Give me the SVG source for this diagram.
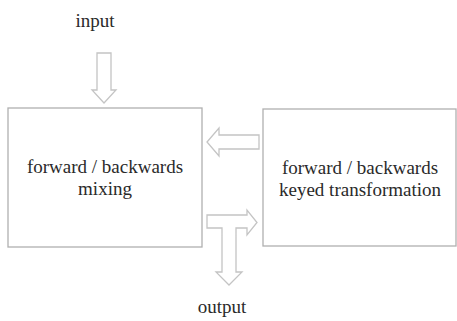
<svg xmlns="http://www.w3.org/2000/svg" width="457" height="321" viewBox="0 0 457 321">
<style>
.box{fill:#fff;stroke:#b0b0b0;stroke-width:1.3}
.arr{fill:#fff;stroke:#c4c4c4;stroke-width:1.3;stroke-linejoin:miter}
text{font-family:"Liberation Serif","Times New Roman",serif;font-size:19px;fill:#2a2a2a;text-anchor:middle}
</style>
<rect width="457" height="321" fill="#fff"/>
<g id="connectors">
<path id="in-arrow" class="arr" d="M97,53 H111 V90 H116 L104,103 L92,90 H97 Z"/>
<path id="back-arrow" class="arr" d="M259,135 H219 V128 L207,142 L219,156 V149 H259 Z"/>
<path id="out-arrow" class="arr" d="M207,215 H247 V210 L257,222.5 L247,235 V228 H236 V272 H242 L229,285 L216,272 H222 V228 H207 Z"/>
</g>
<g id="input"><text x="95" y="27">input</text></g>
<g id="mixing">
<rect class="box" x="8" y="108" width="194" height="139"/>
<text x="105" y="173">forward / backwards</text>
<text x="105" y="195">mixing</text>
</g>
<g id="transformation">
<rect class="box" x="263" y="109" width="193" height="137"/>
<text x="360" y="174">forward / backwards</text>
<text x="360" y="196">keyed transformation</text>
</g>
<g id="output"><text x="222" y="313">output</text></g>
</svg>
